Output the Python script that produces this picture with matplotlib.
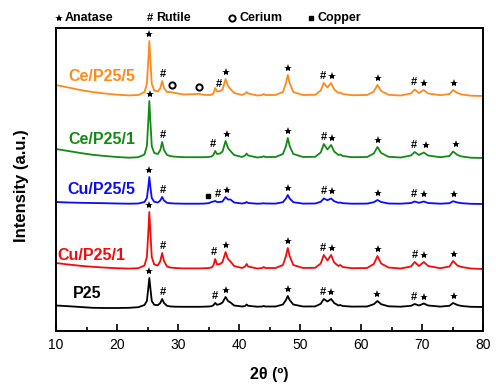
import numpy as np
import matplotlib
matplotlib.use('Agg')
import matplotlib.pyplot as plt

plt.rcParams['font.family'] = ['Liberation Sans', 'DejaVu Sans']

# 2theta sampling points (deg)
two_theta = [10, 12, 14, 16, 18, 20, 22, 23.5, 24.5, 24.9,
             25.15, 25.3, 25.45, 25.7, 26.1, 26.7, 27.1, 27.4, 27.7, 28.2,
             28.7, 29.5, 31, 32.5, 33.3, 34.2, 35.0, 35.5, 35.8, 36.1,
             36.4, 36.9, 37.3, 37.8, 38.2, 38.6, 39.2, 40.5, 41.0, 41.25,
             41.5, 43.0, 43.8, 44.05, 44.3, 46.0, 47.2, 47.7, 48.0, 48.3,
             48.9, 50.5, 52.5, 53.4, 53.9, 54.5, 55.1, 55.6, 56.3, 56.6,
             57.0, 58.5, 61.0, 62.1, 62.7, 63.3, 64.5, 66.5, 68.2, 68.8,
             69.5, 70.3, 71.0, 73.0, 74.5, 75.1, 75.8, 76.5, 78.0, 80.0]

# intensities (a.u., above each pattern's own baseline)
ce_p25_5 = [11, 8.5, 6, 4, 2.5, 1.3, 0.6, 1.0, 4, 12,
            38, 55, 38, 12, 5.5, 4.5, 8, 15, 8, 4,
            4, 3, 1.5, 1.8, 2.2, 1.2, 1.0, 1.3, 2.5, 8,
            4.5, 5, 6.5, 17, 10, 7, 3, 1, 2.5, 4,
            2.5, 0.5, 1, 2, 1, 1, 4, 13, 21, 13,
            4, 1, 1.2, 5.5, 13, 8.5, 13, 6.5, 3, 3.5,
            2, 0.8, 1, 4.5, 11, 5, 1.2, 0.5, 2.5, 6.5,
            3, 6, 2.5, 0.8, 2, 6, 3, 1.5, 0.3, 0]
ce_p25_1 = [9, 7, 5, 3.2, 2, 1, 0.3, 0.8, 3.5, 12,
            39, 57, 39, 12, 5, 4, 8, 16, 8, 3,
            2, 1.3, 0.8, 0.8, 0.8, 0.8, 1, 1.5, 3, 7,
            4, 4.5, 6.5, 17, 10, 7, 3, 1, 2.5, 4.5,
            2.5, 0.5, 1, 1.8, 1, 1, 4, 12, 20, 12,
            4, 1, 1.2, 5.5, 14, 8.5, 13, 6.5, 3, 3.5,
            2, 0.8, 1, 4.5, 11, 5, 1.2, 0.5, 2.5, 6,
            3, 5.5, 2.5, 0.8, 2, 6.5, 3, 1.5, 0.3, 0]
cu_p25_5 = [2, 1.5, 1.2, 1, 0.8, 0.5, 0.3, 0.5, 2, 6,
            18, 27, 18, 6, 2.2, 1.5, 3.5, 7, 3.5, 1.2,
            0.8, 0.5, 0.3, 0.3, 0.3, 0.4, 0.8, 2, 2.5, 3,
            2, 2, 2.5, 7, 4.5, 4.5, 1.5, 0.5, 1, 2,
            1, 0.3, 0.5, 0.8, 0.5, 0.4, 1.8, 5.5, 9, 5.5,
            1.8, 0.4, 0.5, 2.2, 5.5, 3.8, 5.5, 2.8, 1.2, 1.5,
            0.8, 0.3, 0.4, 1.8, 4, 2, 0.5, 0.3, 1, 2.5,
            1.2, 2.5, 1, 0.3, 0.8, 2.8, 1.5, 0.8, 0.2, 0]
cu_p25_1 = [6, 4.5, 3.2, 2.2, 1.4, 0.8, 0.4, 0.8, 3.5, 12,
            39, 57, 39, 12, 4.5, 3.5, 8, 16, 8, 2.5,
            1.5, 1, 0.6, 0.6, 0.6, 0.7, 1, 1.5, 3.5, 10,
            4.5, 5, 7, 17, 10, 7.5, 3, 1, 2.5, 5,
            2.5, 0.5, 1, 2, 1, 1, 4, 13, 21, 13,
            4, 1, 1.2, 5.5, 14, 8.5, 14, 6.5, 3, 4,
            2, 0.8, 1, 5, 13, 5.5, 1.5, 0.5, 2.5, 7,
            3, 7, 3, 0.8, 2.5, 8, 3.5, 2, 0.5, 0]
p25 = [1.5, 0.8, 0, -0.8, -1, -1, -0.8, -0.2, 2, 6,
       20, 29, 20, 6, 2.2, 1.8, 4, 8, 4, 1.2,
       0.6, 0.3, 0.2, 0.2, 0.2, 0.3, 0.5, 0.8, 1.8, 4,
       2.2, 3, 4.5, 10, 6, 4.5, 1.5, 0.5, 1, 2.5,
       1.2, 0.3, 0.5, 1, 0.5, 0.5, 2.5, 7, 11, 7,
       2.5, 0.5, 0.6, 3.2, 8, 5.5, 8, 4, 1.5, 2,
       1, 0.4, 0.5, 2.8, 6, 2.8, 0.7, 0.3, 1.2, 3,
       1.5, 3.5, 1.5, 0.4, 1.2, 4, 2, 1, 0.2, 0]

sample_names = ['Ce/P25/5', 'Ce/P25/1', 'Cu/P25/5', 'Cu/P25/1', 'P25']
colors = ['#FF8A1C', '#138A13', '#0B0BF5', '#F50A0A', '#000000']

# phase markers per pattern
anatase_pos = [[25.3, 37.9, 48.0, 55.3, 62.8, 70.3, 75.3],
               [25.4, 38.0, 48.0, 55.2, 62.8, 70.6, 75.5],
               [25.3, 38.1, 48.0, 55.2, 62.8, 70.3, 75.3],
               [25.3, 37.9, 48.0, 55.2, 62.8, 70.4, 75.3],
               [25.3, 37.9, 48.0, 55.1, 62.7, 70.3, 75.2]]
rutile_pos = [[27.5, 36.7, 53.8, 68.7],
              [27.5, 35.7, 53.9, 68.7],
              [27.5, 36.5, 53.9, 68.7],
              [27.5, 35.9, 53.7, 68.8],
              [27.5, 36.0, 53.8, 68.7]]
cerium_pos = [29.0, 33.5]
copper_pos = [34.9]

x = np.array(two_theta)
patterns = [np.array(p) for p in [ce_p25_5, ce_p25_1, cu_p25_5, cu_p25_1, p25]]
offsets = [235, 173, 127, 62, 24]
label_xy = [(12.0, 254), (12.0, 191), (11.8, 141), (10.3, 76), (12.8, 38)]


def top_near(y, pos, half=0.45):
    sel = (x >= pos - half) & (x <= pos + half)
    return y[sel].max()


fig = plt.figure(figsize=(4.96, 3.85), dpi=100)
ax = fig.add_axes([56/496, 1 - 331/385, 427/496, 303/385])

gap = 7
for i in range(5):
    y = patterns[i] + offsets[i]
    ax.plot(x, y, color=colors[i], lw=1.3)
    ax.text(label_xy[i][0], label_xy[i][1], sample_names[i], color=colors[i],
            fontsize=11.5, fontweight='bold', va='center', ha='left')
    for p in anatase_pos[i]:
        ax.plot(p, top_near(y, p) + gap, marker='*', color='k', ms=6, mew=0)
    for p in rutile_pos[i]:
        ax.text(p, top_near(y, p) + gap, '#', fontsize=8, fontweight='bold',
                ha='center', va='center')

y0 = patterns[0] + offsets[0]
for p in cerium_pos:
    ax.plot(p, top_near(y0, p) + gap, marker='o', mfc='none', mec='k', ms=4.5, mew=1.4)
y2 = patterns[2] + offsets[2]
for p in copper_pos:
    ax.plot(p, top_near(y2, p) + gap, marker='s', color='k', ms=3.5)

ax.set_xlim(10, 80)
ax.set_ylim(0, 303)
ax.set_xticks(range(10, 81, 10))
ax.set_xticks(range(15, 80, 10), minor=True)
ax.set_yticks([])
ax.tick_params(axis='x', which='major', direction='in', length=5, width=1.2,
               labelsize=10, pad=5)
ax.tick_params(axis='x', which='minor', direction='in', length=3, width=1.2)
for s in ax.spines.values():
    s.set_linewidth(1.4)

fig.text(269/496, 1 - 375/385, '2θ (º)', ha='center', va='center',
         fontsize=11.5, fontweight='bold')
fig.text(22/496, 1 - 186/385, 'Intensity (a.u.)', rotation=90, ha='center',
         va='center', fontsize=12, fontweight='bold')

# phase key along the top
key = [('*', 59, 'Anatase', 65), ('#', 150, 'Rutile', 156),
       ('o', 232, 'Cerium', 240), ('s', 311, 'Copper', 317)]
for sym, sx, name, tx in key:
    fx, fy = sx/496, 1 - 18/385
    if sym == '#':
        fig.text(fx, fy, '#', fontsize=8, fontweight='bold', ha='center', va='center')
    elif sym == 'o':
        ax.plot(fx, fy, marker='o', mfc='none', mec='k', ms=4.5, mew=1.4,
                transform=fig.transFigure, clip_on=False)
    elif sym == 's':
        ax.plot(fx, fy, marker='s', color='k', ms=3.5,
                transform=fig.transFigure, clip_on=False)
    else:
        ax.plot(fx, fy, marker='*', color='k', ms=6, mew=0,
                transform=fig.transFigure, clip_on=False)
    fig.text(tx/496, fy, name, fontsize=9, fontweight='bold', ha='left', va='center')

fig.savefig('out.png', dpi=100)
